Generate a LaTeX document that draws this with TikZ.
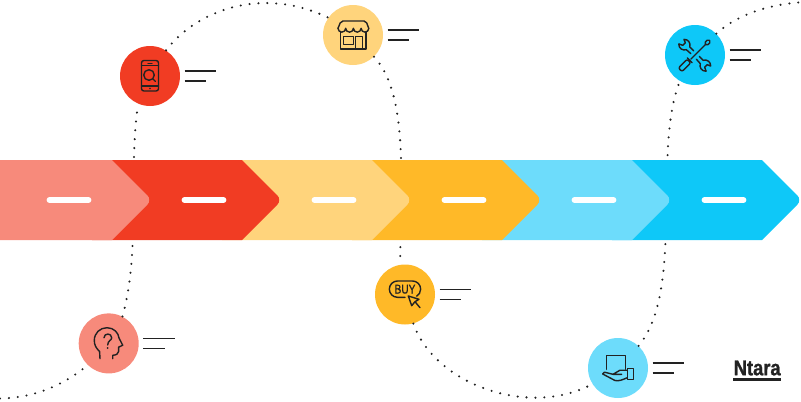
\documentclass[tikz,border=0pt]{standalone}
\usepackage{fontspec}
\newfontfamily\logofont[FakeStretch=0.86,FakeBold=1.2]{Liberation Sans}
\newfontfamily\buyfont[FakeStretch=0.8,FakeBold=0.8]{Liberation Sans}
\definecolor{pinkstep}{HTML}{F78A7B}
\definecolor{redstep}{HTML}{F13C23}
\definecolor{sandstep}{HTML}{FFD47C}
\definecolor{amberstep}{HTML}{FFB928}
\definecolor{skystep}{HTML}{6DDCFB}
\definecolor{cyanstep}{HTML}{0EC8F8}
\definecolor{inkline}{HTML}{222222}
\tikzset{
  stepdot/.style={circle,minimum size=45pt,inner sep=0pt},
  dotline/.style={draw=inkline,line width=1.75pt,line cap=round,dash pattern=on 0pt off 6.68pt},
  noteline/.style={draw=inkline,line width=1.35pt},
  iconline/.style={draw=inkline,line width=1.05pt,line join=round,line cap=round},
  whitebar/.style={draw=white,line width=4.4pt,line cap=round}
}
\begin{document}
\begin{tikzpicture}[x=0.75pt,y=0.75pt,yscale=-1,xscale=1]
    \useasboundingbox (0,0) rectangle (801,401);
    % Step circles
    \node [stepdot,fill=pinkstep] (headdot) at (108.7,343.4) {};
    \node [stepdot,fill=redstep] (phonedot) at (150,76) {};
    \node [stepdot,fill=sandstep] (shopdot) at (353,35) {};
    \node [stepdot,fill=amberstep] (buydot) at (405,294.5) {};
    \node [stepdot,fill=skystep] (handdot) at (618,368) {};
    \node [stepdot,fill=cyanstep] (toolsdot) at (695,55) {};
    \coordinate (trackstart) at (0,398.5);
    \coordinate (trackend) at (801,2.3);
    % Dotted track
    \draw [dotline] (trackstart) .. controls (30,398) and (60,388) .. (headdot.-134);
    \draw [dotline] (headdot.63) .. controls (141,250) and (128,170) .. (phonedot.-113);
    \draw [dotline] (phonedot.58) .. controls (195,12) and (260,-15) .. (shopdot.145);
    \draw [dotline] (shopdot.-46) .. controls (410,95) and (400,190) .. (buydot.99);
    \draw [dotline] (buydot.-74) .. controls (435,385) and (530,418) .. (handdot.212);
    \draw [dotline] (handdot.47) .. controls (685,290) and (652,150) .. (toolsdot.-120);
    \draw [dotline] (toolsdot.45) .. controls (740,12) and (775,4) .. (trackend);
    % Chevrons, last one first
    \foreach \stepcol/\px in {cyanstep/762,skystep/632,amberstep/502,sandstep/372,redstep/242,pinkstep/112} {
      \fill [\stepcol] (\px-150,160) -- (\px,160) [rounded corners=5pt] -- (\px+40,200) [sharp corners] -- (\px,240) -- (\px-150,240) -- cycle;
    }
    \fill [pinkstep] (0,160) -- (112,160) -- (112,240) -- (0,240) -- cycle;
    \foreach \barx in {49.5,184.5,314.5,444.5,574.5,704.5} {
      \draw [whitebar] (\barx,200) -- (\barx+39,200);
    }
    % Text lines
    \foreach \dotname in {headdot,phonedot,shopdot,buydot,handdot,toolsdot} {
      \draw [noteline] ([shift={(34.5,-5)}]\dotname.center) -- ++(31.5,0);
      \draw [noteline] ([shift={(34.5,5)}]\dotname.center) -- ++(21.5,0);
    }
    % Head icon
    \draw [iconline] (100,358.7) -- (99.6,351.5) .. controls (96,348) and (94.3,345) .. (94.3,340.5) .. controls (94.3,333) and (100,327.7) .. (107,327.7) .. controls (114,327.7) and (118.5,333) .. (119,338) -- (122.7,345.2) -- (118.6,347.2) -- (118.6,351.5) .. controls (118.6,354) and (116,355) .. (112.7,355.3) -- (112.7,358.7);
    \draw [iconline] (104,337.8) .. controls (104,332.8) and (111.7,332.8) .. (111.7,337.8) .. controls (111.7,340.5) and (107.7,340.5) .. (107.7,345);
    \fill [inkline] (107.7,348) circle [radius=1];
    % Phone icon
    \draw [iconline,rounded corners=1.8pt] (141.5,60.5) rectangle (158.5,91);
    \draw [iconline] (141.5,65.7) -- (158.5,65.7) (141.5,86) -- (158.5,86) (148,63.3) -- (152,63.3);
    \fill [inkline] (150,88.5) circle [radius=0.9];
    \draw [iconline] (149,75) circle [radius=5.3] (152.9,78.9) -- (155.3,81.3);
    % Shop icon
    \draw [iconline,rounded corners=1.5pt] (338,28.3) -- (341,21) -- (366,21) -- (368.7,28.3);
    \draw [iconline] (338,28.3) arc [start angle=180,end angle=0,radius=3.85] arc [start angle=180,end angle=0,radius=3.85] arc [start angle=180,end angle=0,radius=3.85] arc [start angle=180,end angle=0,radius=3.85];
    \draw [iconline] (340.7,32) -- (340.7,49) -- (366,49) -- (366,32);
    \draw [iconline] (343.3,36.7) rectangle (353.3,44.7);
    \draw [iconline] (355.7,49) -- (355.7,36.7) -- (362.7,36.7) -- (362.7,49);
    % Buy icon
    \draw [iconline] (405,297.3) -- (397.5,297.3) arc [start angle=90,end angle=270,radius=8.15] -- (412.5,281) arc [start angle=-90,end angle=60,radius=8.15];
    \node [inner sep=0pt,text=inkline] (buylabel) at (405,289.2) {\buyfont\fontsize{9.5pt}{9.5pt}\selectfont BUY};
    \draw [iconline] (408.3,296) -- (419,299.3) -- (415,301.7) -- (411.7,305.7) -- cycle (415,301.7) -- (420,307.7);
    % Hand icon
    \draw [iconline] (606.7,369.3) -- (606.7,355.3) -- (625.7,355.3) -- (625.7,369.3);
    \draw [iconline] (627.3,368.7) rectangle (633.3,379.3);
    \draw [iconline] (627.3,370.2) -- (620,370.2) -- (613,374.3) -- (621.7,374.3);
    \draw [iconline] (613,374.3) -- (604.5,372.2) -- (602.7,374) -- (615,380.5) .. controls (619,381.5) and (623,379.5) .. (627.3,377.7);
    % Tools icon
    \begin{scope}[shift={(695,55)},rotate=45]
      \foreach \sidesign in {1,-1} {
        \begin{scope}[xscale=\sidesign]
          \draw [iconline] (4,-2) -- (9.5,-2) arc [start angle=-155,end angle=-40,radius=5.6] -- (15.5,-1.8) -- (15.5,1.8) -- (19.3,3.6) arc [start angle=40,end angle=155,radius=5.6] -- (4,2);
        \end{scope}
      }
    \end{scope}
    \begin{scope}[shift={(695,55)},rotate=-45]
      \draw [iconline] (-6,0) -- (15,0);
      \draw [iconline,rounded corners=1.2pt] (15,-1.9) rectangle (20.5,1.9);
      \draw [iconline,rounded corners=1.6pt] (-21,-2.6) rectangle (-8.5,2.6);
      \draw [iconline] (-7.5,-3.4) -- (-7.5,3.4);
    \end{scope}
    % Logo
    \node [inner sep=0pt,text=inkline] (logotext) at (757.2,368) {\logofont\bfseries\fontsize{16pt}{16pt}\selectfont Ntara};
    \fill [inkline] (733.3,378.2) rectangle (781,380.6);
\end{tikzpicture}
\end{document}
